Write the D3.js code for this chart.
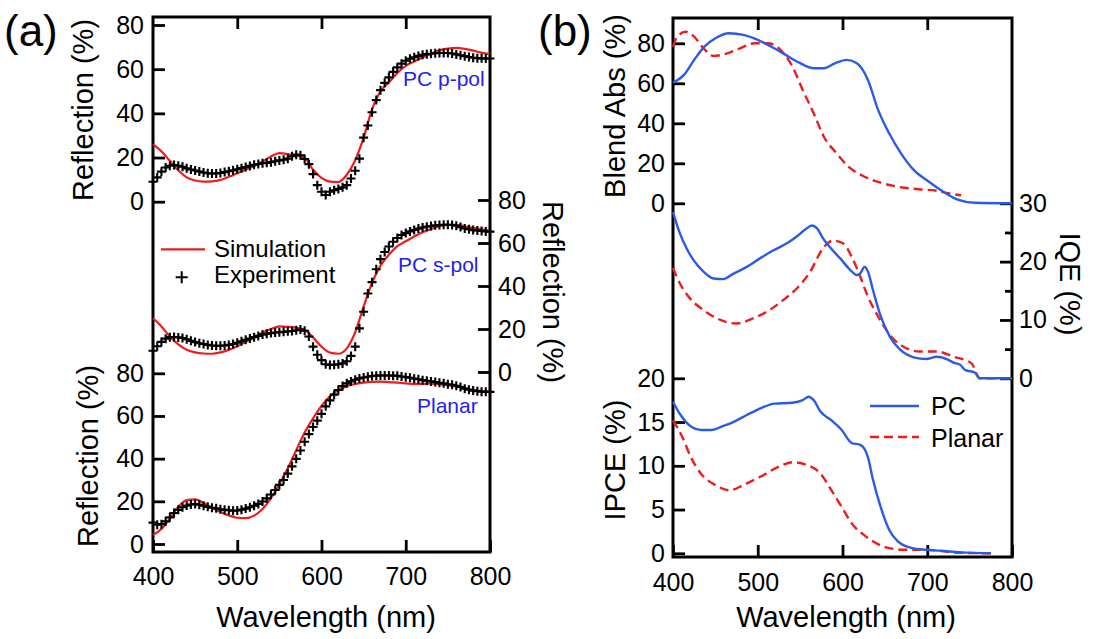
<!DOCTYPE html>
<html>
<head>
<meta charset="utf-8">
<script src="https://cdn.jsdelivr.net/npm/d3@7"></script>
<style>
body { margin: 0; background: #fff; }
text { font-family: "Liberation Sans", Arial, sans-serif; }
</style>
</head>
<body>
<svg width="1093" height="639"></svg>
<script>
// ---- panel (a): reflection, experiment every 5 nm, simulation every 10 nm
var expWl = d3.range(400, 805, 5);
var simWl = d3.range(400, 810, 10);

var expP = [9,11,13.6,15.5,16.3,16.6,16.3,15.8,15.1,14.6,
	14.1,13.7,13.2,12.9,12.8,12.8,13.0,13.4,13.8,14.2,
	14.7,15.2,15.7,16.2,16.7,17.1,17.4,17.6,17.9,18.3,
	18.7,19.0,19.5,20.6,21.3,21.0,19.3,17.0,12.5,7.5,
	4.5,3.0,4.5,5.2,5.8,6.5,7.5,10.5,14.0,19.5,
	29.0,34.5,40.5,46.0,50.5,53.8,56.3,58.8,60.8,62.5,
	63.8,64.7,65.4,66.0,66.5,66.8,67.0,67.2,67.3,67.3,
	67.3,67.1,66.7,66.3,65.9,65.5,65.2,65.0,64.9,64.8,
	64.8];
var simP = [26.1,22.8,18.5,14.2,11.0,9.6,9.1,9.2,9.8,11.3,
	12.9,14.5,16.2,18.2,20.5,22.0,21.6,20.9,19.9,14.5,
	10.8,9.1,8.9,12.2,18.8,29.0,41.8,50.0,54.0,58.3,
	61.5,63.5,65.3,67.0,68.5,69.3,69.6,69.2,68.4,67.5,
	66.8];

var expS = [9.9,12.0,14.0,15.5,16.2,16.3,16.1,15.8,15.2,14.5,
	13.9,13.4,13.0,12.6,12.3,12.2,12.2,12.3,12.6,13.0,
	13.6,14.3,15.0,15.6,16.2,16.8,17.4,17.8,18.1,18.4,
	18.5,18.7,18.9,19.1,19.4,19.8,19.2,16.5,11.8,8.0,
	5.5,3.6,3.3,3.4,3.6,4.0,5.0,7.5,11.8,20.3,
	28.0,36.5,41.8,47.8,52.5,55.8,58.4,60.6,62.3,63.7,
	64.6,65.4,66.1,66.7,67.2,67.6,67.9,68.2,68.4,68.5,
	68.5,68.4,68.0,67.4,66.8,66.4,66.0,65.8,65.6,65.4,
	65.3];
var simS = [25.0,21.2,16.5,12.8,10.3,9.1,8.6,8.5,9.1,10.3,
	12.0,14.0,16.0,18.3,20.0,21.2,21.0,20.6,19.7,16.0,
	11.8,9.0,8.5,11.0,18.5,30.5,41.5,49.5,54.5,58.5,
	60.8,63.0,65.0,66.5,67.8,68.4,68.4,67.8,67.0,66.3,
	65.7];

var expPl = [10.0,9.0,9.3,10.6,12.5,14.5,16.0,17.2,18.0,18.5,
	18.7,18.4,17.9,17.4,17.0,16.7,16.3,16.0,15.8,15.6,
	15.7,16.1,16.6,17.2,17.9,18.8,19.9,21.4,23.2,25.3,
	27.7,30.0,33.0,36.4,39.9,43.8,47.9,51.5,54.8,57.8,
	61.0,64.5,67.3,70.0,72.2,74.0,75.3,76.2,77.0,77.6,
	78.0,78.4,78.7,78.9,79.0,79.0,79.0,78.9,78.8,78.5,
	78.2,77.9,77.5,77.2,76.8,76.5,76.2,75.9,75.6,75.3,
	74.9,74.6,74.2,73.6,72.8,72.3,71.9,71.6,71.4,71.3,
	71.3];
var simPl = [4.2,7.0,12.0,17.5,20.6,20.9,19.2,17.0,15.0,13.4,
	12.3,12.1,13.3,16.4,21.5,28.0,35.5,44.0,52.3,58.9,
	64.7,69.2,72.2,74.0,75.0,75.6,76.0,76.1,75.9,75.6,
	75.3,75.0,75.0,75.2,74.9,74.4,73.8,73.0,72.3,71.7,
	71.3];

// ---- panel (b): [wavelength, value]
var absPC = [[400,60.3],[413,64.2],[425,71.7],[437,78.3],[450,82.5],[466,85.0],[483,84.2],[500,81.7],
	[516,78.3],[533,74.2],[549,70.3],[566,67.5],[578,67.5],[591,70.0],[605,71.7],[617,70.0],[630,61.7],
	[642,46.7],[655,35.0],[669,25.0],[684,16.7],[702,10.8],[719,5.8],[735,2.0],[756,0.3],[800,0]];
var absPl = [[400,78.3],[405,83.3],[415,85.8],[425,83.3],[436,77.5],[448,73.7],[462,74.7],[479,77.5],
	[496,80],[512,80],[529,75.8],[541,68.3],[553,56.7],[566,45],[578,33.3],[593,25],[607,18.3],
	[626,13.3],[645,10.3],[665,8.3],[690,7.0],[711,6.3],[725,5.0],[740,4.0]];
var iqePC = [[400,28.5],[408,24.9],[416,22.3],[424,20.3],[436,18.3],[448,17.1],[459,17.0],[471,17.9],
	[487,19.1],[503,20.6],[518,21.9],[534,23.1],[546,24.3],[556,25.5],[564,26.2],[570,25.7],[577,24.0],
	[585,22.5],[597,20.6],[609,18.6],[617,17.7],[621,18.0],[626,19.1],[630,18.3],[636,15.1],[644,11.1],
	[656,7.1],[668,4.9],[684,3.6],[699,3.3],[711,3.7],[723,3.3],[731,2.7],[739,2.3],[745,1.4],[756,1.0],
	[762,0],[800,0]];
var iqePl = [[400,18.9],[408,16.3],[420,13.7],[436,11.7],[456,10.0],[475,9.4],[495,10.3],[514,11.7],
	[530,13.4],[546,15.4],[562,18.3],[577,22.3],[589,23.6],[601,23.1],[611,20.8],[621,17.4],[630,14.0],
	[642,10.6],[656,7.4],[672,5.4],[691,4.6],[711,4.6],[731,3.7],[752,2.6],[762,0],[800,0]];
var ipcePC = [[400,17.3],[409,15.8],[421,14.5],[433,14.1],[446,14.1],[458,14.5],[471,15.0],[487,15.8],
	[504,16.6],[520,17.1],[541,17.2],[553,17.5],[560,17.9],[566,17.5],[574,16.2],[587,15.2],[599,14.1],
	[611,12.6],[621,12.4],[630,11.0],[636,8.4],[645,5.3],[655,2.7],[665,1.4],[682,0.6],[698,0.4],
	[715,0.3],[740,0.1],[775,0]];
var ipcePl = [[400,15.2],[411,13.3],[421,11.0],[433,9.1],[450,7.8],[467,7.2],[483,7.8],[504,8.8],
	[525,9.9],[541,10.4],[558,10.1],[574,9.1],[587,7.2],[599,5.3],[611,3.4],[628,1.9],[649,0.75],
	[673,0.4],[698,0.4],[731,0.1],[775,0]];

var wlTicks = [400,500,600,700,800];
var innerWl = [500,600,700];
var reflTicks = [0,20,40,60,80];

var red = "#ee1c1c", blue = "#2a5be6", labelBlue = "#2222ee";
var dash = "9,5";

var svg = d3.select("svg");

var xA = d3.scaleLinear().domain([400,800]).range([153,490]);
var yA1 = d3.scaleLinear().domain([0,80]).range([201.7,25]);
var yA2 = d3.scaleLinear().domain([0,80]).range([372,200]);
var yA3 = d3.scaleLinear().domain([0,80]).range([544,373.3]);

var xB = d3.scaleLinear().domain([400,800]).range([673,1012]);
var yAbs = d3.scaleLinear().domain([0,80]).range([203.3,43.3]);
var yIqe = d3.scaleLinear().domain([0,30]).range([378.3,203.3]);
var yIpce = d3.scaleLinear().domain([0,20]).range([553.3,378.3]);

function axis(gen, tx, ty, vals, size, pad, labels) {
	gen.tickValues(vals).tickSize(-size).tickPadding(pad);
	if (!labels) gen.tickFormat("");
	var g = svg.append("g").attr("transform", "translate(" + tx + "," + ty + ")").call(gen);
	g.select(".domain").remove();
	g.attr("font-family", "Liberation Sans, Arial, sans-serif").attr("font-size", 25);
	g.selectAll("line").attr("stroke", "#000").attr("stroke-width", 2.8);
	g.selectAll("text").attr("fill", "#000");
	return g;
}

// frames
svg.append("rect").attr("x", 153).attr("y", 17).attr("width", 337).attr("height", 535)
	.attr("fill", "none").attr("stroke", "#000").attr("stroke-width", 3);
svg.append("rect").attr("x", 673).attr("y", 18).attr("width", 339).attr("height", 539)
	.attr("fill", "none").attr("stroke", "#000").attr("stroke-width", 3);

// panel a axes
axis(d3.axisTop(xA), 0, 17, innerWl, 12, 0, false);
axis(d3.axisBottom(xA), 0, 552, wlTicks, 12, 15, true);
axis(d3.axisLeft(yA1), 153, 0, reflTicks, 12, 9, true);
axis(d3.axisRight(yA2), 490, 0, reflTicks, 12, 8, true);
axis(d3.axisLeft(yA3), 153, 0, reflTicks, 12, 9, true);

// panel b axes
axis(d3.axisTop(xB), 0, 18, innerWl, 12, 0, false);
axis(d3.axisBottom(xB), 0, 557, wlTicks, 12, 16, true);
axis(d3.axisLeft(yAbs), 673, 0, [0,20,40,60,80], 12, 8, true);
axis(d3.axisLeft(yIpce), 673, 0, [0,5,10,15,20], 12, 8, true);
axis(d3.axisRight(yIqe), 1012, 0, [0,10,20,30], 12, 7, true);
axis(d3.axisRight(yIqe), 1012, 0, [5,15,25], 7, 7, false);

// panel a curves
function simLine(y) {
	return d3.line().x(function(d, i) { return xA(simWl[i]); }).y(function(d) { return y(d); })
		.curve(d3.curveMonotoneX);
}
function drawRefl(sim, exp, y) {
	svg.append("path").datum(sim).attr("d", simLine(y))
		.attr("fill", "none").attr("stroke", red).attr("stroke-width", 2.2);
	svg.append("g").selectAll("path").data(exp).enter().append("path")
		.attr("d", "M-4.5,0H4.5M0,-4.5V4.5")
		.attr("transform", function(d, i) { return "translate(" + xA(expWl[i]) + "," + y(d) + ")"; })
		.attr("stroke", "#000").attr("stroke-width", 2.1).attr("fill", "none");
}
drawRefl(simP, expP, yA1);
drawRefl(simS, expS, yA2);
drawRefl(simPl, expPl, yA3);

// panel b curves
function drawB(data, y, color, dasharray) {
	var line = d3.line().x(function(d) { return xB(d[0]); }).y(function(d) { return y(d[1]); })
		.curve(d3.curveMonotoneX);
	svg.append("path").datum(data).attr("d", line)
		.attr("fill", "none").attr("stroke", color).attr("stroke-width", 2.4)
		.attr("stroke-dasharray", dasharray);
}
drawB(absPl, yAbs, red, dash);
drawB(absPC, yAbs, blue, null);
drawB(iqePl, yIqe, red, dash);
drawB(iqePC, yIqe, blue, null);
drawB(ipcePl, yIpce, red, dash);
drawB(ipcePC, yIpce, blue, null);

// texts
function txt(x, y, s, size, opts) {
	opts = opts || {};
	var t = svg.append("text").attr("x", 0).attr("y", 0).text(s)
		.attr("font-size", size).attr("fill", opts.fill || "#000")
		.attr("text-anchor", opts.anchor || "start");
	if (opts.rot) t.attr("dominant-baseline", "central");
	t.attr("transform", "translate(" + x + "," + y + ")" + (opts.rot ? " rotate(" + opts.rot + ")" : ""));
	return t;
}
txt(4, 46, "(a)", 44);
txt(538, 46, "(b)", 44);

txt(83, 110, "Reflection (%)", 29, {anchor: "middle", rot: -90});
txt(88, 456, "Reflection (%)", 29, {anchor: "middle", rot: -90});
txt(553, 292, "Reflection (%)", 29, {anchor: "middle", rot: 90});
txt(326, 627, "Wavelength (nm)", 29, {anchor: "middle"});

txt(615, 106, "Blend Abs (%)", 29, {anchor: "middle", rot: -90});
txt(615, 460, "IPCE (%)", 29, {anchor: "middle", rot: -90});
txt(1070, 284, "IQE (%)", 29, {anchor: "middle", rot: 90});
txt(846, 627, "Wavelength (nm)", 29, {anchor: "middle"});

txt(403, 86, "PC p-pol", 21, {fill: labelBlue});
txt(398, 272, "PC s-pol", 21, {fill: labelBlue});
txt(417, 413, "Planar", 21, {fill: labelBlue});

// legend a
svg.append("line").attr("x1", 161).attr("x2", 205).attr("y1", 249.3).attr("y2", 249.3)
	.attr("stroke", red).attr("stroke-width", 2.2);
svg.append("path").attr("d", "M-6,0H6M0,-6V6").attr("transform", "translate(181.7,277.3)")
	.attr("stroke", "#000").attr("stroke-width", 2);
txt(214, 256.5, "Simulation", 24);
txt(214, 283, "Experiment", 24);

// legend b
svg.append("line").attr("x1", 870).attr("x2", 919).attr("y1", 406).attr("y2", 406)
	.attr("stroke", blue).attr("stroke-width", 2.4);
svg.append("line").attr("x1", 870).attr("x2", 919).attr("y1", 437).attr("y2", 437)
	.attr("stroke", red).attr("stroke-width", 2.4).attr("stroke-dasharray", dash);
txt(931, 415, "PC", 25);
txt(931, 446.5, "Planar", 25);
</script>
</body>
</html>
